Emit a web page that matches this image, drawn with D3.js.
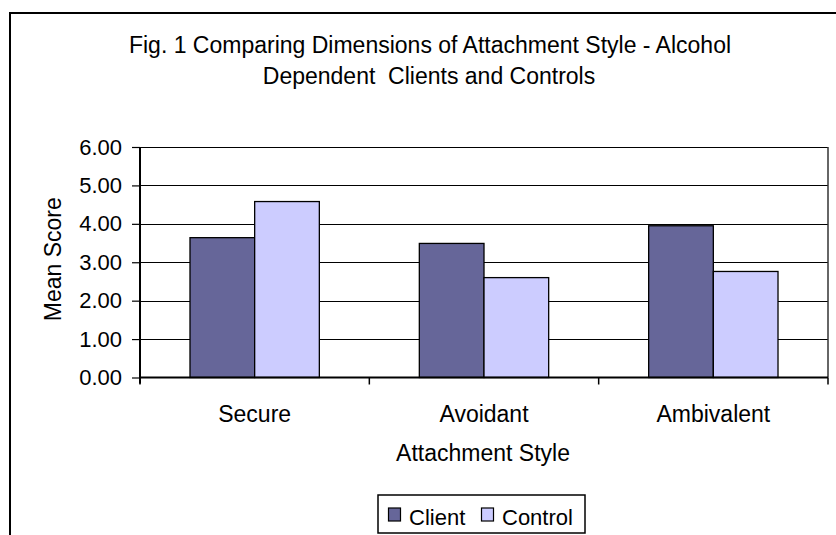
<!DOCTYPE html>
<html>
<head>
<meta charset="utf-8">
<script src="https://cdn.jsdelivr.net/npm/d3@7"></script>
<style>
  body { margin: 0; background: #fff; }
  svg text { font-family: "Liberation Sans", Arial, sans-serif; fill: #000; }
</style>
</head>
<body>
<div id="chart"></div>
<script>
// chart values
var categories = ["Secure", "Avoidant", "Ambivalent"];
var seriesNames = ["Client", "Control"];
var clientValues = [3.64, 3.49, 3.95];
var controlValues = [4.58, 2.60, 2.76];
var yTicks = [0, 1, 2, 3, 4, 5, 6];
var colors = {Client: "#666699", Control: "#CCCCFF"};

var width = 836, height = 535;
var margin = {top: 147, left: 140, right: 8, bottom: 158};

var data = categories.map(function(c, i) {
  return {cat: c, Client: clientValues[i], Control: controlValues[i]};
});

var svg = d3.select("#chart")
  .append("svg")
  .attr("width", width)
  .attr("height", height);

// outer frame (cut off at right and bottom like the original)
svg.append("path")
  .attr("d", "M10," + height + "V13H" + width)
  .attr("fill", "none")
  .attr("stroke", "#000")
  .attr("stroke-width", 2);

// title
var title = svg.append("text")
  .attr("text-anchor", "middle")
  .style("font-size", "23px");
title.append("tspan").attr("x", 430).attr("y", 53)
  .text("Fig. 1 Comparing Dimensions of Attachment Style - Alcohol");
title.append("tspan").attr("x", 429).attr("y", 84)
  .style("white-space", "pre")
  .attr("xml:space", "preserve")
  .text("Dependent\u00a0 Clients and Controls");

var xScale = d3.scaleBand()
  .domain(categories)
  .range([margin.left, width - margin.right])
  .padding(0);

var xInner = d3.scaleBand()
  .domain(seriesNames)
  .range([0, xScale.bandwidth()])
  .paddingInner(0)
  .paddingOuter(0.773);

var yScale = d3.scaleLinear()
  .domain([0, 6])
  .range([height - margin.bottom + 0.5, margin.top]);

var plotRight = width - margin.right;

// gridlines
svg.append("g")
  .selectAll("line")
  .data(yTicks.filter(function(d) { return d > 0; }))
  .enter()
  .append("line")
  .attr("x1", margin.left)
  .attr("x2", plotRight)
  .attr("y1", function(d) { return Math.round(yScale(d)) + 0.5; })
  .attr("y2", function(d) { return Math.round(yScale(d)) + 0.5; })
  .attr("stroke", "#000")
  .attr("stroke-width", 1.2);

// plot area right border
svg.append("line")
  .attr("x1", plotRight).attr("x2", plotRight)
  .attr("y1", yScale(6)).attr("y2", yScale(0))
  .attr("stroke", "#333")
  .attr("stroke-width", 1.5);

// bars
var groups = svg.append("g")
  .selectAll("g")
  .data(data)
  .enter()
  .append("g")
  .attr("transform", function(d) { return "translate(" + xScale(d.cat) + ",0)"; });

groups.selectAll("rect")
  .data(function(d) { return seriesNames.map(function(s) { return {key: s, value: d[s]}; }); })
  .enter()
  .append("rect")
  .attr("x", function(d) { return xInner(d.key); })
  .attr("y", function(d) { return yScale(d.value); })
  .attr("width", xInner.bandwidth())
  .attr("height", function(d) { return yScale(0) - yScale(d.value); })
  .attr("fill", function(d) { return colors[d.key]; })
  .attr("stroke", "#000")
  .attr("stroke-width", 1.3);

// y axis
var yAxisGenerator = d3.axisLeft(yScale)
  .tickValues(yTicks)
  .tickSize(8)
  .tickPadding(10)
  .tickFormat(d3.format(".2f"));

var yAxis = svg.append("g")
  .attr("transform", "translate(" + margin.left + ",0)")
  .call(yAxisGenerator);
yAxis.select(".domain").remove();
yAxis.selectAll(".tick line").attr("stroke", "#000").attr("stroke-width", 1.2);
yAxis.selectAll(".tick text")
  .style("font-size", "22px")
  .style("font-family", "'Liberation Sans', Arial, sans-serif");

svg.append("line")
  .attr("x1", margin.left).attr("x2", margin.left)
  .attr("y1", yScale(6)).attr("y2", yScale(0) + 6)
  .attr("stroke", "#000")
  .attr("stroke-width", 2);

// x axis line and ticks at band edges
svg.append("line")
  .attr("x1", margin.left).attr("x2", plotRight)
  .attr("y1", yScale(0)).attr("y2", yScale(0))
  .attr("stroke", "#000")
  .attr("stroke-width", 2);

var edges = categories.map(function(c) { return xScale(c); }).concat([plotRight]);
svg.append("g")
  .selectAll("line")
  .data(edges)
  .enter()
  .append("line")
  .attr("x1", function(d) { return d; })
  .attr("x2", function(d) { return d; })
  .attr("y1", yScale(0))
  .attr("y2", yScale(0) + 7)
  .attr("stroke", "#000")
  .attr("stroke-width", 1.5);

// category labels
svg.append("g")
  .selectAll("text")
  .data(categories)
  .enter()
  .append("text")
  .attr("x", function(d) { return xScale(d) + xScale.bandwidth() / 2; })
  .attr("y", 422)
  .attr("text-anchor", "middle")
  .style("font-size", "23px")
  .text(function(d) { return d; });

// axis titles
svg.append("text")
  .attr("x", (margin.left + plotRight) / 2 - 1)
  .attr("y", 461)
  .attr("text-anchor", "middle")
  .style("font-size", "23px")
  .text("Attachment Style");

svg.append("text")
  .attr("transform", "translate(61," + (yScale(3) - 3) + ") rotate(-90)")
  .attr("text-anchor", "middle")
  .style("font-size", "23px")
  .text("Mean Score");

// legend
var legend = svg.append("g").attr("transform", "translate(378,495)");
legend.append("rect")
  .attr("width", 207)
  .attr("height", 38)
  .attr("fill", "#fff")
  .attr("stroke", "#000")
  .attr("stroke-width", 1.5);

var legendX = [10, 103];
var items = legend.selectAll(".item")
  .data(seriesNames)
  .enter()
  .append("g")
  .attr("class", "item")
  .attr("transform", function(d, i) { return "translate(" + legendX[i] + ",0)"; });

items.append("rect")
  .attr("x", 0.5)
  .attr("y", 13)
  .attr("width", 12)
  .attr("height", 13)
  .attr("fill", function(d) { return colors[d]; })
  .attr("stroke", "#000")
  .attr("stroke-width", 1.2);

items.append("text")
  .attr("x", 21)
  .attr("y", 30)
  .style("font-size", "22px")
  .text(function(d) { return d; });
</script>
</body>
</html>
